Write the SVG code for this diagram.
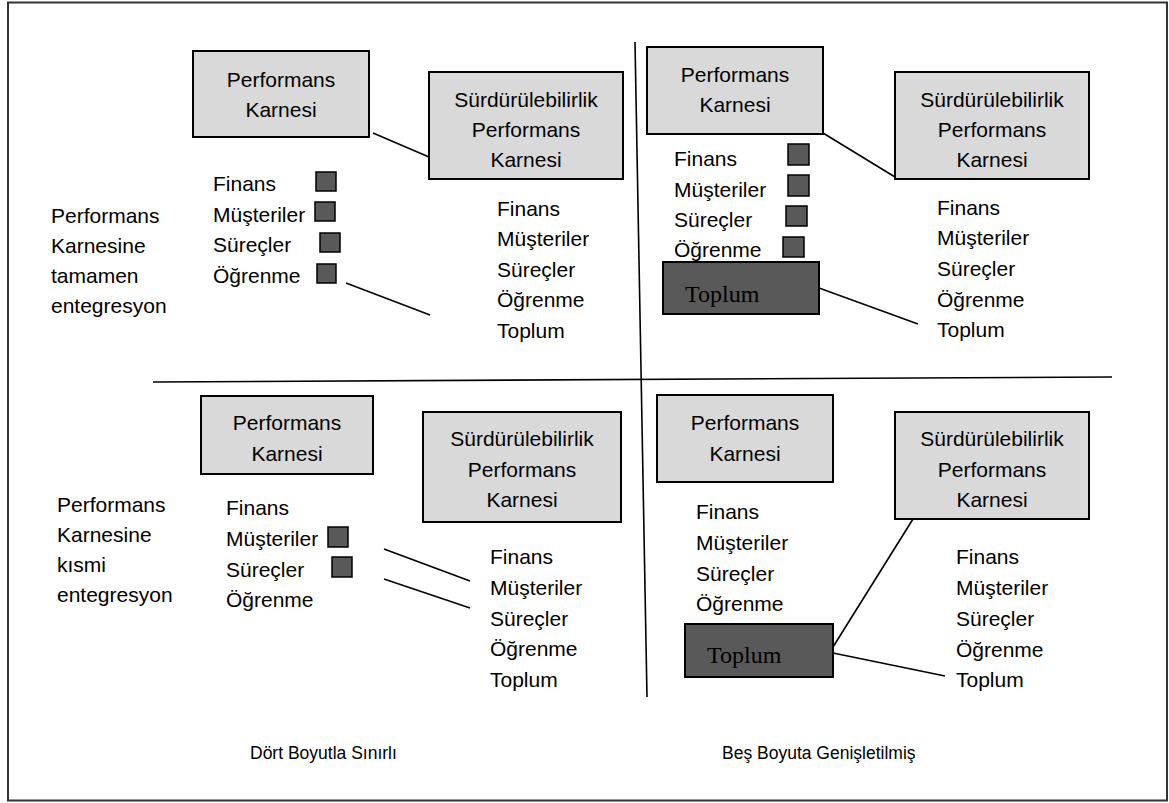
<svg xmlns="http://www.w3.org/2000/svg" width="1169" height="803" viewBox="0 0 1169 803">
<style>
  text { font-family: "Liberation Sans", Arial, sans-serif; font-size: 21px; fill: #000; }
  .c { text-anchor: middle; }
  .cap { font-size: 17.5px; }
  .serif { font-family: "Liberation Serif", "Times New Roman", serif; font-size: 24px; }
  .light { fill: #d9d9d9; stroke: #000; stroke-width: 2; }
  .dark { fill: #595959; stroke: #000; stroke-width: 2; }
  .sq { fill: #595959; stroke: #000; stroke-width: 1.5; }
  .ln { stroke: #000; stroke-width: 1.6; fill: none; }
</style>
<rect x="8" y="2.5" width="1159" height="798" fill="#fff" stroke="#333" stroke-width="2"/>

<g id="dividers">
  <line class="ln" x1="635" y1="42" x2="647" y2="697"/>
  <line class="ln" x1="153" y1="382" x2="1112" y2="377"/>
</g>

<!-- Top-left quadrant -->
<g id="tl-label">
  <text x="51" y="223">Performans</text>
  <text x="51" y="253">Karnesine</text>
  <text x="51" y="283">tamamen</text>
  <text x="51" y="313">entegresyon</text>
</g>
<g id="tl-pk">
  <rect class="light" x="193" y="51" width="176" height="86"/>
  <text class="c" x="281" y="87">Performans</text>
  <text class="c" x="281" y="117">Karnesi</text>
</g>
<g id="tl-spk">
  <rect class="light" x="429" y="72" width="194" height="107"/>
  <text class="c" x="526" y="107">Sürdürülebilirlik</text>
  <text class="c" x="526" y="137">Performans</text>
  <text class="c" x="526" y="167">Karnesi</text>
</g>
<g id="tl-list">
  <text x="213" y="191">Finans</text>
  <text x="213" y="222">Müşteriler</text>
  <text x="213" y="252">Süreçler</text>
  <text x="213" y="283">Öğrenme</text>
  <rect class="sq" x="316" y="172" width="20" height="19"/>
  <rect class="sq" x="315" y="202" width="20" height="19"/>
  <rect class="sq" x="320" y="233" width="20" height="19"/>
  <rect class="sq" x="317" y="264" width="19" height="19"/>
</g>
<g id="tl-list2">
  <text x="497" y="216">Finans</text>
  <text x="497" y="246">Müşteriler</text>
  <text x="497" y="277">Süreçler</text>
  <text x="497" y="307">Öğrenme</text>
  <text x="497" y="338">Toplum</text>
</g>

<!-- Top-right quadrant -->
<g id="tr-pk">
  <rect class="light" x="647" y="47" width="176" height="87"/>
  <text class="c" x="735" y="82">Performans</text>
  <text class="c" x="735" y="112">Karnesi</text>
</g>
<g id="tr-spk">
  <rect class="light" x="895" y="72" width="194" height="107"/>
  <text class="c" x="992" y="107">Sürdürülebilirlik</text>
  <text class="c" x="992" y="137">Performans</text>
  <text class="c" x="992" y="167">Karnesi</text>
</g>
<g id="tr-list">
  <text x="674" y="166">Finans</text>
  <text x="674" y="197">Müşteriler</text>
  <text x="674" y="227">Süreçler</text>
  <text x="674" y="257">Öğrenme</text>
  <rect class="sq" x="788" y="144" width="21" height="21"/>
  <rect class="sq" x="788" y="175" width="21" height="21"/>
  <rect class="sq" x="786" y="206" width="21" height="20"/>
  <rect class="sq" x="783" y="237" width="21" height="20"/>
</g>
<g id="tr-toplum">
  <rect class="dark" x="663" y="262" width="156" height="52"/>
  <text class="serif" x="685" y="302">Toplum</text>
</g>
<g id="tr-list2">
  <text x="937" y="215">Finans</text>
  <text x="937" y="245">Müşteriler</text>
  <text x="937" y="276">Süreçler</text>
  <text x="937" y="307">Öğrenme</text>
  <text x="937" y="337">Toplum</text>
</g>

<!-- Bottom-left quadrant -->
<g id="bl-label">
  <text x="57" y="512">Performans</text>
  <text x="57" y="542">Karnesine</text>
  <text x="57" y="572">kısmi</text>
  <text x="57" y="602">entegresyon</text>
</g>
<g id="bl-pk">
  <rect class="light" x="201" y="396" width="172" height="78"/>
  <text class="c" x="287" y="430">Performans</text>
  <text class="c" x="287" y="461">Karnesi</text>
</g>
<g id="bl-spk">
  <rect class="light" x="423" y="412" width="198" height="110"/>
  <text class="c" x="522" y="446">Sürdürülebilirlik</text>
  <text class="c" x="522" y="477">Performans</text>
  <text class="c" x="522" y="507">Karnesi</text>
</g>
<g id="bl-list">
  <text x="226" y="515">Finans</text>
  <text x="226" y="546">Müşteriler</text>
  <text x="226" y="577">Süreçler</text>
  <text x="226" y="607">Öğrenme</text>
  <rect class="sq" x="328" y="527" width="20" height="20"/>
  <rect class="sq" x="332" y="557" width="20" height="20"/>
</g>
<g id="bl-list2">
  <text x="490" y="564">Finans</text>
  <text x="490" y="595">Müşteriler</text>
  <text x="490" y="626">Süreçler</text>
  <text x="490" y="656">Öğrenme</text>
  <text x="490" y="687">Toplum</text>
</g>

<!-- Bottom-right quadrant -->
<g id="br-pk">
  <rect class="light" x="657" y="395" width="176" height="87"/>
  <text class="c" x="745" y="430">Performans</text>
  <text class="c" x="745" y="461">Karnesi</text>
</g>
<g id="br-spk">
  <rect class="light" x="895" y="412" width="194" height="107"/>
  <text class="c" x="992" y="446">Sürdürülebilirlik</text>
  <text class="c" x="992" y="477">Performans</text>
  <text class="c" x="992" y="507">Karnesi</text>
</g>
<g id="br-list">
  <text x="696" y="519">Finans</text>
  <text x="696" y="550">Müşteriler</text>
  <text x="696" y="581">Süreçler</text>
  <text x="696" y="611">Öğrenme</text>
</g>
<g id="br-toplum">
  <rect class="dark" x="685" y="624" width="148" height="53"/>
  <text class="serif" x="707" y="663">Toplum</text>
</g>
<g id="br-list2">
  <text x="956" y="564">Finans</text>
  <text x="956" y="595">Müşteriler</text>
  <text x="956" y="626">Süreçler</text>
  <text x="956" y="657">Öğrenme</text>
  <text x="956" y="687">Toplum</text>
</g>

<g id="captions">
  <text class="cap" x="250" y="759">Dört Boyutla Sınırlı</text>
  <text class="cap" x="722" y="759">Beş Boyuta Genişletilmiş</text>
</g>

<g id="connectors">
  <line class="ln" x1="373" y1="133" x2="429" y2="157"/>
  <line class="ln" x1="346" y1="283" x2="430" y2="315"/>
  <line class="ln" x1="823" y1="133" x2="895" y2="177"/>
  <line class="ln" x1="819" y1="288" x2="918" y2="324"/>
  <line class="ln" x1="384" y1="549" x2="470" y2="581"/>
  <line class="ln" x1="384" y1="579" x2="470" y2="608"/>
  <line class="ln" x1="833" y1="647" x2="913" y2="519"/>
  <line class="ln" x1="833" y1="653" x2="945" y2="676"/>
</g>
</svg>
